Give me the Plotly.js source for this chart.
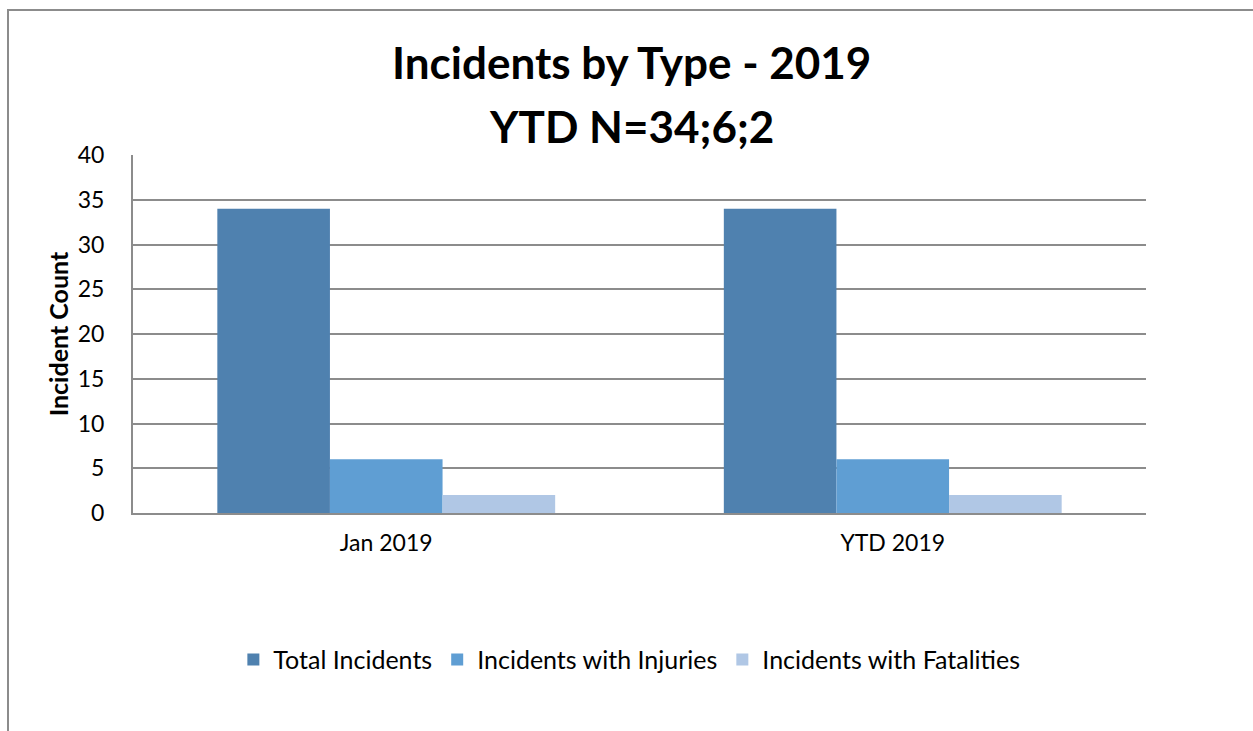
<!DOCTYPE html>
<html>
<head>
<meta charset="utf-8">
<script src="https://cdn.plot.ly/plotly-3.0.1.min.js"></script>
<style>
  html, body { margin: 0; padding: 0; background: #fff; }
  #wrap { position: relative; width: 1253px; height: 731px; overflow: hidden; }
  #chart { width: 1253px; height: 731px; }
  #frame { position: absolute; left: 7px; top: 9px; width: 1400px; height: 900px;
           border-left: 2px solid #8c8c8c; border-top: 2px solid #8c8c8c; pointer-events: none; }
</style>
</head>
<body>
<div id="wrap">
  <div id="chart"></div>
  <div id="frame"></div>
</div>
<script>
const categories = ["Jan 2019", "YTD 2019"];
const totalIncidents = [34, 34];
const incidentsWithInjuries = [6, 6];
const incidentsWithFatalities = [2, 2];
const seriesNames = ["Total Incidents", "Incidents with Injuries", "Incidents with Fatalities"];
const titleLine1 = "Incidents by Type - 2019";
const titleLine2 = "YTD N=34;6;2";
const yTicks = [0, 5, 10, 15, 20, 25, 30, 35, 40];

const FONT = "Lato, 'Open Sans', sans-serif";
const colors = ["#4F81AF", "#5F9ED3", "#B0C7E5"];
const values = [totalIncidents, incidentsWithInjuries, incidentsWithFatalities];

const traces = seriesNames.map((name, i) => ({
  type: "bar",
  name: name,
  x: categories,
  y: values[i],
  marker: { color: colors[i], line: { width: 0 } },
  hoverinfo: "x+y+name"
}));

const layout = {
  width: 1253,
  height: 731,
  margin: { l: 133, r: 107, t: 155, b: 218 },
  paper_bgcolor: "#ffffff",
  plot_bgcolor: "#ffffff",
  barmode: "group",
  bargap: 0.333,
  bargroupgap: 0,
  font: { family: FONT, color: "#000000", size: 23 },
  showlegend: true,
  legend: {
    orientation: "h",
    x: 0.49, xanchor: "center",
    y: -0.41, yanchor: "middle",
    font: { family: FONT, size: 25, color: "#000" },
    itemwidth: 30,
    traceorder: "normal"
  },
  xaxis: {
    type: "category",
    showline: true,
    linecolor: "#8c8c8c",
    linewidth: 2,
    ticks: "",
    showgrid: false,
    tickfont: { family: FONT, size: 23, color: "#000" },
    ticklabelstandoff: 8
  },
  yaxis: {
    range: [0, 40],
    tickvals: yTicks,
    ticktext: yTicks.map(String),
    showline: true,
    linecolor: "#8c8c8c",
    linewidth: 2,
    showgrid: true,
    gridcolor: "#8c8c8c",
    gridwidth: 2,
    zeroline: false,
    ticks: "",
    ticklabelstandoff: 22,
    tickfont: { family: FONT, size: 23, color: "#000" },
    title: { text: "<b>Incident Count</b>", font: { family: FONT, size: 25, color: "#000" }, standoff: 2 }
  },
  annotations: [
    { text: "<b>" + titleLine1 + "</b>", xref: "paper", yref: "paper", x: 0.492, y: 1.26,
      xanchor: "center", yanchor: "middle", showarrow: false,
      font: { family: FONT, size: 44, color: "#000" } },
    { text: "<b>" + titleLine2 + "</b>", xref: "paper", yref: "paper", x: 0.492, y: 1.081,
      xanchor: "center", yanchor: "middle", showarrow: false,
      font: { family: FONT, size: 44, color: "#000" } }
  ]
};

Plotly.newPlot("chart", traces, layout, { displayModeBar: false, staticPlot: true });
</script>
</body>
</html>
